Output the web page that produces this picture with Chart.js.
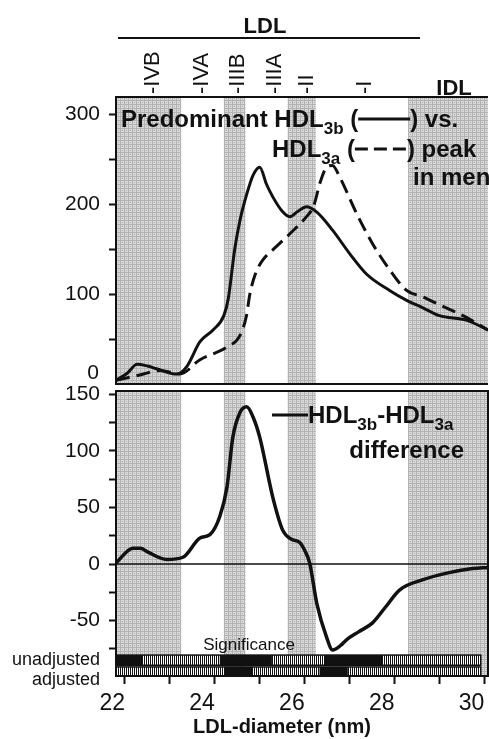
<!DOCTYPE html>
<html>
<head>
<meta charset="utf-8">
<script src="https://cdn.jsdelivr.net/npm/chart.js@4.4.0/dist/chart.umd.min.js"></script>
<style>
body { margin: 0; background: #fff; width: 489px; height: 739px; overflow: hidden; position: relative; }
.box { position: absolute; left: 0; width: 489px; }
#top { top: 0; height: 390px; }
#bot { top: 379px; height: 360px; }
</style>
</head>
<body>
<div class="box" id="top"><canvas id="profileChart"></canvas></div>
<div class="box" id="bot"><canvas id="diffChart"></canvas></div>
<script>
// LDL diameter (nm) vs. HDL3b / HDL3a predominant profiles
var hdl3bX = [21.8, 22.05, 22.27, 22.5, 22.7, 23.15, 23.37, 23.67, 23.96, 24.2, 24.3, 24.44, 24.56, 24.71, 24.85, 25.0, 25.15, 25.29, 25.5, 25.67, 25.85, 26.04, 26.27, 26.62, 27.0, 27.38, 27.89, 28.27, 28.62, 29.0, 29.6, 30.08];
var hdl3bY = [4, 12, 22, 20, 17, 11, 19, 47, 60, 76, 95, 149, 182, 211, 232, 241, 222, 208, 192, 186, 192, 197, 191, 171, 145, 122, 104, 93, 85, 76, 71, 60];

var hdl3aX = [21.8, 22.33, 22.78, 23.22, 23.67, 24.27, 24.56, 24.7, 24.78, 24.9, 25.07, 25.29, 25.67, 26.04, 26.2, 26.35, 26.49, 26.62, 26.78, 27.16, 27.51, 27.89, 28.27, 28.62, 29.0, 29.6, 30.08];
var hdl3aY = [4, 10, 15, 11, 27, 41, 54, 75, 100, 122, 138, 149, 167, 186, 198, 225, 241, 243, 230, 189, 156, 127, 104, 97, 88, 74, 60];

var diffX = [21.8, 22.18, 22.35, 22.49, 22.93, 23.29, 23.67, 23.89, 24.11, 24.27, 24.4, 24.56, 24.71, 24.85, 25.0, 25.29, 25.51, 25.7, 25.89, 26.0, 26.11, 26.27, 26.49, 26.62, 26.8, 26.93, 27.2, 27.51, 27.8, 28.11, 28.62, 29.16, 29.73, 30.08];
var diffY = [1, 14, 14, 11, 4, 6, 23, 26, 42, 68, 112, 134, 139, 130, 112, 59, 30, 22, 19, 12, 1, -35, -65, -76, -72, -67, -60, -52, -38, -23, -14, -8, -4, -3];

// shaded LDL subclass regions [from, to]
var bands = [[21.8, 23.25], [24.2, 24.68], [25.62, 26.25], [28.3, 30.08]];

var subclassNames = ['-IVB', '-IVA', '-IIIB', '-IIIA', '-II', '-I'];
var subclassPos = [22.62, 23.71, 24.51, 25.33, 26.04, 27.33];

// significance bars: black = significant, rest hatched
var sigUnadjusted = [[21.8, 22.4], [24.11, 25.27], [26.44, 27.73]];
var sigAdjusted = [[24.22, 24.84], [26.33, 26.96]];
var sigEnd = 29.92;

var FONT = "'Liberation Sans', Arial, Helvetica, sans-serif";
Chart.defaults.font.family = FONT;
Chart.defaults.color = '#111';

function toPoints(xs, ys) {
    return xs.map((x, i) => ({x: x, y: ys[i]}));
}

function stipple(ctx) {
    const c = document.createElement('canvas');
    c.width = 4; c.height = 4;
    const g = c.getContext('2d');
    g.fillStyle = '#d8d8d8'; g.fillRect(0, 0, 4, 4);
    g.fillStyle = '#b2b2b2';
    g.fillRect(0, 0, 4, 1);
    g.fillRect(0, 0, 1, 4);
    g.fillRect(2, 2, 1, 1);
    return ctx.createPattern(c, 'repeat');
}

function hatch(ctx) {
    const c = document.createElement('canvas');
    c.width = 2; c.height = 1;
    const g = c.getContext('2d');
    g.fillStyle = '#fff'; g.fillRect(0, 0, 2, 1);
    g.fillStyle = '#111'; g.fillRect(0, 0, 1, 1);
    return ctx.createPattern(c, 'repeat');
}

function noPad(s) {
    s.paddingTop = 0;
    s.paddingBottom = 0;
    s.paddingLeft = 0;
    s.paddingRight = 0;
}

function drawBands(chart) {
    const {ctx, chartArea, scales} = chart;
    ctx.save();
    ctx.fillStyle = stipple(ctx);
    bands.forEach(b => {
        let x0 = Math.max(scales.x.getPixelForValue(b[0]), chartArea.left);
        let x1 = Math.min(scales.x.getPixelForValue(b[1]), chartArea.right);
        ctx.fillRect(x0, chartArea.top, x1 - x0, chartArea.bottom - chartArea.top);
    });
    ctx.restore();
}

// text with subscripts and legend line samples
function rich(ctx, x, y, parts) {
    ctx.textAlign = 'left';
    ctx.textBaseline = 'alphabetic';
    parts.forEach(p => {
        if (p.line) {
            ctx.save();
            ctx.lineWidth = 3;
            ctx.setLineDash(p.line === 'dash' ? [13, 6] : []);
            ctx.beginPath();
            ctx.moveTo(x, y - 8);
            ctx.lineTo(x + p.w, y - 8);
            ctx.stroke();
            ctx.restore();
            x += p.w;
            return;
        }
        ctx.font = p.sub ? 'bold 17px ' + FONT : 'bold 24px ' + FONT;
        ctx.fillText(p.t, x, y + (p.sub ? 7 : 0));
        x += ctx.measureText(p.t).width;
    });
}

var topPlugin = {
    id: 'topDecor',
    beforeDatasetsDraw: chart => drawBands(chart),
    afterDraw: chart => {
        const {ctx, chartArea, scales} = chart;
        ctx.save();
        ctx.strokeStyle = '#111';
        ctx.fillStyle = '#111';
        ctx.lineWidth = 2;
        ctx.beginPath();
        ctx.moveTo(chartArea.right, chartArea.top);
        ctx.lineTo(chartArea.left, chartArea.top);
        ctx.lineTo(chartArea.left, chartArea.bottom);
        ctx.lineTo(chartArea.right, chartArea.bottom);
        ctx.stroke();

        // "0" label sits a little above the axis bottom
        ctx.font = '21px ' + FONT;
        ctx.textAlign = 'right';
        ctx.textBaseline = 'middle';
        ctx.fillText('0', 99, scales.y.getPixelForValue(0) - 11);

        // LDL subclass labels (rotated)
        ctx.font = '22px ' + FONT;
        subclassNames.forEach((name, i) => {
            ctx.save();
            ctx.translate(scales.x.getPixelForValue(subclassPos[i]), chartArea.top - 3);
            ctx.rotate(-Math.PI / 2);
            ctx.textAlign = 'left';
            ctx.textBaseline = 'middle';
            ctx.fillText(name, 0, 0);
            ctx.restore();
        });

        ctx.font = 'bold 22px ' + FONT;
        ctx.textAlign = 'center';
        ctx.textBaseline = 'alphabetic';
        ctx.fillText('IDL', 454, 95);
        ctx.fillText('LDL', 265, 33);
        ctx.beginPath();
        ctx.moveTo(118, 38);
        ctx.lineTo(420, 38);
        ctx.stroke();

        rich(ctx, 121, 127, [
            {t: 'Predominant HDL'}, {t: '3b', sub: true}, {t: ' ('},
            {line: 'solid', w: 52}, {t: ') vs.'}
        ]);
        rich(ctx, 272, 157, [
            {t: 'HDL'}, {t: '3a', sub: true}, {t: ' ('},
            {line: 'dash', w: 52}, {t: ') peak'}
        ]);
        rich(ctx, 413, 185, [{t: 'in men'}]);
        ctx.restore();
    }
};

function drawSigRow(ctx, xs, top, bottom, segs) {
    const x0 = xs.getPixelForValue(21.8);
    const x1 = xs.getPixelForValue(sigEnd);
    ctx.fillStyle = hatch(ctx);
    ctx.fillRect(x0, top, x1 - x0, bottom - top);
    ctx.fillStyle = '#111';
    segs.forEach(s => {
        let a = Math.max(xs.getPixelForValue(s[0]), x0);
        let b = xs.getPixelForValue(s[1]);
        ctx.fillRect(a, top, b - a, bottom - top);
    });
    ctx.lineWidth = 1.5;
    ctx.strokeStyle = '#111';
    ctx.strokeRect(x0, top, x1 - x0, bottom - top);
}

var diffPlugin = {
    id: 'diffDecor',
    beforeDatasetsDraw: chart => {
        drawBands(chart);
        const {ctx, chartArea, scales} = chart;
        ctx.save();
        // zero line
        ctx.strokeStyle = '#111';
        ctx.lineWidth = 1.5;
        let y0 = scales.y.getPixelForValue(0);
        ctx.beginPath();
        ctx.moveTo(chartArea.left, y0);
        ctx.lineTo(chartArea.right, y0);
        ctx.stroke();
        // significance rows
        let ys = scales.y;
        drawSigRow(ctx, scales.x, ys.getPixelForValue(-80.5), ys.getPixelForValue(-89.5), sigUnadjusted);
        drawSigRow(ctx, scales.x, ys.getPixelForValue(-91), ys.getPixelForValue(-99), sigAdjusted);
        ctx.restore();
    },
    afterDraw: chart => {
        const {ctx, chartArea, scales} = chart;
        const top = chartArea.top;
        ctx.save();
        ctx.strokeStyle = '#111';
        ctx.fillStyle = '#111';
        ctx.lineWidth = 2;
        ctx.strokeRect(chartArea.left, chartArea.top, chartArea.right - chartArea.left, chartArea.bottom - chartArea.top);

        ctx.font = '17px ' + FONT;
        ctx.textAlign = 'center';
        ctx.textBaseline = 'alphabetic';
        ctx.fillText('Significance', 249, scales.y.getPixelForValue(-76));
        ctx.font = '18px ' + FONT;
        ctx.textAlign = 'right';
        ctx.textBaseline = 'middle';
        ctx.fillText('unadjusted', 100, scales.y.getPixelForValue(-85));
        ctx.fillText('adjusted', 100, scales.y.getPixelForValue(-85) + 20);

        ctx.font = 'bold 20px ' + FONT;
        ctx.textAlign = 'center';
        ctx.textBaseline = 'alphabetic';
        ctx.fillText('LDL-diameter (nm)', 282, chartArea.bottom + 57);

        rich(ctx, 272, top + 32, [
            {line: 'solid', w: 36}, {t: 'HDL'}, {t: '3b', sub: true},
            {t: '-HDL'}, {t: '3a', sub: true}
        ]);
        ctx.font = 'bold 24px ' + FONT;
        ctx.textAlign = 'right';
        ctx.fillText('difference', 464, top + 67);
        ctx.restore();
    }
};

var xScale = {
    type: 'linear',
    min: 21.8,
    max: 30.08
};

new Chart(document.getElementById('profileChart'), {
    type: 'line',
    plugins: [topPlugin],
    data: {
        datasets: [{
            label: 'HDL3b',
            data: toPoints(hdl3bX, hdl3bY),
            borderColor: '#111',
            borderWidth: 3,
            pointRadius: 0,
            cubicInterpolationMode: 'monotone'
        }, {
            label: 'HDL3a',
            data: toPoints(hdl3aX, hdl3aY),
            borderColor: '#111',
            borderWidth: 3,
            borderDash: [14, 7],
            pointRadius: 0,
            cubicInterpolationMode: 'monotone'
        }]
    },
    options: {
        responsive: true,
        maintainAspectRatio: false,
        animation: false,
        layout: {padding: {top: 97, right: 1, bottom: 6, left: 0}},
        plugins: {legend: {display: false}, tooltip: {enabled: false}},
        scales: {
            x: Object.assign({display: false}, xScale),
            y: {
                min: 0,
                max: 319,
                afterFit: s => { s.width = 116; noPad(s); },
                afterBuildTicks: s => {
                    s.ticks = s.ticks.filter(t => t.value % 50 === 0 && t.value > 0 && t.value <= 300);
                },
                ticks: {
                    stepSize: 50,
                    includeBounds: false,
                    autoSkip: false,
                    padding: 9,
                    font: {size: 21},
                    callback: v => (v % 100 === 0 ? v : '')
                },
                grid: {drawOnChartArea: false, tickLength: 7, tickColor: '#111', tickWidth: 2},
                border: {display: false}
            }
        }
    }
});

new Chart(document.getElementById('diffChart'), {
    type: 'line',
    plugins: [diffPlugin],
    data: {
        datasets: [{
            label: 'HDL3b-HDL3a difference',
            data: toPoints(diffX, diffY),
            borderColor: '#111',
            borderWidth: 3.5,
            pointRadius: 0,
            cubicInterpolationMode: 'monotone'
        }]
    },
    options: {
        responsive: true,
        maintainAspectRatio: false,
        animation: false,
        layout: {padding: {top: 12, right: 1, bottom: 0, left: 0}},
        plugins: {legend: {display: false}, tooltip: {enabled: false}},
        scales: {
            x: Object.assign({
                afterFit: s => { s.height = 63; noPad(s); },
                afterBuildTicks: s => {
                    s.ticks = s.ticks.filter(t => Number.isInteger(t.value) && t.value >= 22 && t.value <= 30);
                },
                ticks: {
                    stepSize: 1,
                    includeBounds: false,
                    autoSkip: false,
                    maxRotation: 0,
                    align: 'end',
                    padding: 6,
                    font: {size: 23},
                    callback: v => (v % 2 === 0 ? v : '')
                },
                grid: {drawOnChartArea: false, tickLength: 8, tickColor: '#111', tickWidth: 2},
                border: {display: false}
            }, xScale),
            y: {
                min: -99,
                max: 153,
                afterFit: s => { s.width = 116; noPad(s); },
                afterBuildTicks: s => {
                    s.ticks = s.ticks.filter(t => t.value % 25 === 0 && t.value >= -75 && t.value <= 150);
                },
                ticks: {
                    stepSize: 25,
                    includeBounds: false,
                    autoSkip: false,
                    padding: 9,
                    font: {size: 21},
                    callback: v => (v % 50 === 0 ? v : '')
                },
                grid: {drawOnChartArea: false, tickLength: 7, tickColor: '#111', tickWidth: 2},
                border: {display: false}
            }
        }
    }
});
</script>
</body>
</html>
